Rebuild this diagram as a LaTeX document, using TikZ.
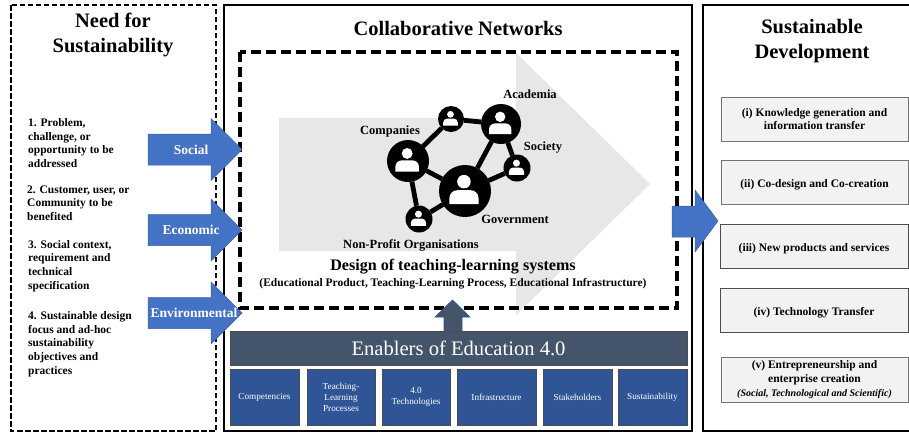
\documentclass[tikz,border=0pt]{standalone}
\usepackage{fontspec}
\setmainfont{Liberation Serif}
\usepackage{xcolor}
\usetikzlibrary{arrows.meta}

\definecolor{arrowblue}{HTML}{4472C4}
\definecolor{slatebar}{HTML}{44546A}
\definecolor{enablerblue}{HTML}{2F5597}
\definecolor{paleshade}{HTML}{E7E7E7}
\definecolor{boxshade}{HTML}{F2F2F2}

\newcommand{\fsz}[2]{\fontsize{#1}{#2}\selectfont}

\tikzset{
    solidpanel/.style={draw=black, line width=2.6pt},
    needpanel/.style={draw=black, line width=2.4pt, dash pattern=on 5.5pt off 2.5pt},
    designpanel/.style={draw=black, line width=3.2pt, dash pattern=on 10pt off 5pt},
    paneltitle/.style={font=\fsz{20.5}{25}\bfseries, align=center, inner sep=0pt},
    needitem/.style={font=\fsz{11.5}{13.7}\bfseries, align=left, anchor=west, inner sep=0pt},
    netlabel/.style={font=\fsz{12.5}{14}\bfseries, inner sep=0pt},
    usernode/.style={circle, fill=black, inner sep=0pt, outer sep=0pt},
    netlink/.style={draw=black, line width=4.8pt},
    blockarrow/.style={fill=arrowblue, draw=arrowblue!85!black, line width=0.5pt},
    arrowlabel/.style={font=\fsz{13.5}{15}\bfseries, text=white, inner sep=0pt},
    enablerbox/.style={draw=black!70, line width=0.8pt, fill=enablerblue, text=white, font=\fsz{9.2}{11}, align=center, inner sep=0pt, minimum height=56pt},
    outcomebox/.style={draw=black!55, line width=0.9pt, fill=boxshade, font=\fsz{11.5}{13.7}\bfseries, align=center, inner sep=0pt, minimum width=187pt, minimum height=44pt},
    oneline/.style={text height=13pt, text depth=3pt},
}

\begin{document}
\begin{tikzpicture}[x=1pt,y=-1pt]
    \useasboundingbox (0,0) rectangle (909,432);

    % Panels
    \draw[needpanel] (11,5) rectangle (216,431);
    \draw[solidpanel] (224,5) rectangle (692,431);
    \draw[solidpanel] (703,5) rectangle (920,431);

    \node[paneltitle] (needtitle) at (113,35) {Need for\\Sustainability};
    \node[paneltitle] (collabtitle) at (458,28) {Collaborative Networks};
    \node[paneltitle] (devtitle) at (812,41) {Sustainable\\Development};

    % Needs
    \node[needitem] (needone) at (28,143) {1. Problem,\\challenge, or\\opportunity to be\\addressed};
    \node[needitem] (needtwo) at (27,203) {2. Customer, user, or\\Community to be\\benefited};
    \node[needitem] (needthree) at (28,266) {3. Social context,\\requirement and\\technical\\specification};
    \node[needitem] (needfour) at (28,344) {4. Sustainable design\\focus and ad-hoc\\sustainability\\objectives and\\practices};

    % Large grey arrow
    \fill[paleshade] (279,118) -- (516,118) -- (516,53) -- (650,184) -- (516,315) -- (516,251) -- (279,251) -- cycle;
    \draw[designpanel] (240,52) rectangle (677,308);

    % Network
    \foreach \name/\px/\py/\rad in {companies/408/161/21, linkuser/451/119/13, academia/501/124/20, society/517/168/13.5, government/465/191/26, nonprofit/419/219/13.5}{
        \node[usernode, minimum size=2*\rad pt] (\name) at (\px,\py) {};
        \fill[white] (\px-0.04*\rad,\py-0.36*\rad) circle [radius=0.26*\rad];
        \fill[white] (\px-0.6*\rad,\py+0.5*\rad) [rounded corners=0.3*\rad pt] -- (\px-0.6*\rad,\py-0.03*\rad) -- (\px+0.52*\rad,\py-0.03*\rad) [sharp corners] -- (\px+0.52*\rad,\py+0.5*\rad) -- cycle;
    }
    \draw[netlink] (companies) -- (linkuser);
    \draw[netlink] (linkuser) -- (academia);
    \draw[netlink] (academia) -- (government);
    \draw[netlink] (academia) -- (society);
    \draw[netlink] (society) -- (government);
    \draw[netlink] (companies) -- (government);
    \draw[netlink] (companies) -- (nonprofit);
    \draw[netlink] (nonprofit) -- (government);

    \node[netlabel] (academialabel) at (530,94) {Academia};
    \node[netlabel] (companieslabel) at (390,131) {Companies};
    \node[netlabel] (societylabel) at (543,148) {Society};
    \node[netlabel] (governmentlabel) at (515,219) {Government};
    \node[netlabel] (nonprofitlabel) at (411,245) {Non-Profit Organisations};
    \node[font=\fsz{16.1}{18}\bfseries, inner sep=0pt] (designtitle) at (453,267) {Design of teaching-learning systems};
    \node[netlabel, font=\fsz{11.5}{13}\bfseries] (designsub) at (453,284) {(Educational Product, Teaching-Learning Process, Educational Infrastructure)};

    % Blue arrows
    \foreach \name/\px/\py/\word in {social/191/149.5/Social, economic/191/230/Economic, environmental/194/313/Environmental}{
        \draw[blockarrow] (148,\py-15.5) -- (211,\py-15.5) -- (211,\py-31) -- (242,\py) -- (211,\py+31) -- (211,\py+15.5) -- (148,\py+15.5) -- cycle;
        \node[arrowlabel] (\name) at (\px,\py) {\word};
    }
    \draw[blockarrow] (672,206) -- (695,206) -- (695,190) -- (718,221) -- (695,252) -- (695,237) -- (672,237) -- cycle;

    % Enablers
    \draw[fill=slatebar, draw=enablerblue, line width=0.6pt] (444,333) -- (444,317) -- (435,317) -- (452.5,300) -- (470,317) -- (462,317) -- (462,333) -- cycle;
    \node[draw=black!70, line width=0.8pt, fill=slatebar, text=white, font=\fsz{20.6}{24}, inner sep=0pt, minimum width=457pt, minimum height=34pt] (enablers) at (458.5,348.5) {Enablers of Education 4.0};

    \node[enablerbox, minimum width=69pt] (competencies) at (264.5,397) {Competencies};
    \node[enablerbox, minimum width=68pt] (processes) at (341,397) {Teaching-\\Learning\\Processes};
    \node[enablerbox, minimum width=68pt] (technologies) at (416,397) {4.0\\Technologies};
    \node[enablerbox, minimum width=79pt] (infrastructure) at (496.5,397) {Infrastructure};
    \node[enablerbox, minimum width=69pt] (stakeholders) at (577.5,397) {Stakeholders};
    \node[enablerbox, minimum width=69pt] (sustainability) at (652.5,397) {Sustainability};

    % Outcomes
    \node[outcomebox] (outcomeone) at (814.5,119) {(i) Knowledge generation and\\information transfer};
    \node[outcomebox, oneline] (outcometwo) at (814.5,182) {(ii) Co-design and Co-creation};
    \node[outcomebox, oneline, draw=black!70, minimum width=188pt] (outcomethree) at (814,246) {(iii) New products and services};
    \node[outcomebox, oneline, draw=black!70, minimum width=188pt] (outcomefour) at (814,310) {(iv) Technology Transfer};
    \node[outcomebox, minimum height=45pt] (outcomefive) at (814.5,379.5) {(v) Entrepreneurship and\\enterprise creation\\{\fsz{10}{13}\itshape (Social, Technological and Scientific)}};
\end{tikzpicture}
\end{document}
